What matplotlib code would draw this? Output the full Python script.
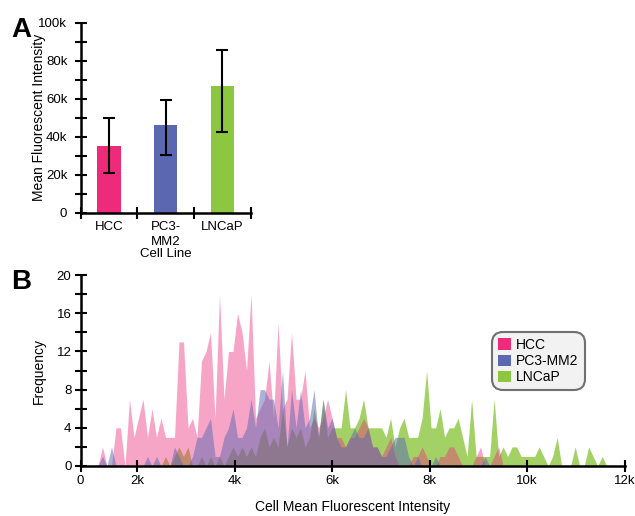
import numpy as np
import matplotlib
matplotlib.use("Agg")
import matplotlib.pyplot as plt
from matplotlib.patches import Patch

plt.rcParams['font.family'] = ['Liberation Sans', 'DejaVu Sans']

# panel A: mean intensity per cell line
cell_lines = ['HCC', 'PC3-\nMM2', 'LNCaP']
mean_mfi = [35100, 46200, 66800]
err_low = [14100, 15700, 24200]
err_high = [14900, 13100, 18800]

# panel B: histogram of cell mean intensity
bin_start = 915
bin_width = 92.4
hcc = [0, 0, 0, 0, 2, 0, 0, 4, 4, 0,
       7, 3, 5, 7, 3, 6, 3, 5, 3, 3,
       3, 13, 13, 4, 5, 3, 11, 12, 14, 5,
       18, 7, 12, 12, 16, 14, 10, 18, 5, 6,
       7, 11, 5, 15, 6, 7, 14, 7, 7, 10,
       4, 5, 4, 5, 7, 5, 3, 3, 2, 3,
       3, 4, 5, 4, 2, 2, 1, 2, 3, 1,
       0, 0, 0, 1, 1, 2, 1, 0, 0, 1,
       1, 2, 2, 1, 0, 0, 0, 1, 2, 0,
       0, 1, 2, 0, 0, 0, 0, 0, 0, 0,
       0, 0, 0, 0, 0, 0, 0, 0, 0, 0,
       0, 0, 0, 0, 0, 0, 0]
pc3 = [0, 0, 0, 0, 1, 0, 2, 0, 0, 0,
       0, 0, 0, 0, 1, 0, 1, 0, 0, 0,
       2, 1, 0, 0, 1, 3, 3, 4, 5, 1,
       1, 3, 4, 6, 3, 3, 4, 7, 4, 8,
       8, 7, 7, 4, 10, 2, 8, 4, 8, 4,
       5, 8, 3, 7, 4, 5, 3, 2, 2, 3,
       4, 3, 3, 4, 2, 2, 1, 1, 2, 3,
       3, 3, 1, 0, 1, 0, 0, 0, 1, 0,
       0, 0, 0, 0, 0, 0, 0, 0, 0, 1,
       0, 0, 0, 0, 0, 0, 0, 0, 0, 0,
       0, 0, 0, 0, 0, 0, 0, 0, 0, 0,
       0, 0, 0, 0, 0, 0, 0]
lncap = [0, 0, 0, 0, 0, 0, 0, 0, 0, 0,
         0, 0, 0, 0, 0, 0, 0, 0, 1, 0,
         1, 2, 1, 2, 0, 0, 1, 0, 1, 0,
         1, 0, 1, 2, 1, 2, 1, 2, 1, 3,
         4, 2, 3, 2, 6, 2, 4, 3, 4, 2,
         3, 6, 3, 7, 3, 4, 4, 4, 8, 4,
         4, 5, 7, 4, 4, 4, 4, 3, 5, 2,
         4, 5, 3, 3, 3, 5, 10, 4, 4, 6,
         3, 4, 4, 5, 3, 1, 7, 1, 1, 1,
         1, 7, 1, 2, 1, 2, 2, 1, 1, 1,
         1, 2, 1, 0, 1, 3, 0, 0, 0, 2,
         0, 0, 2, 1, 0, 1, 0]

pink = '#ee2a7b'
blue = '#5b67b1'
green = '#8dc63f'

fig = plt.figure(figsize=(6.35, 5.16), dpi=100)

# ---- A ----
axA = fig.add_axes([0.1268, 0.5878, 0.268, 0.368])
pos = np.arange(len(cell_lines))
axA.bar(pos, mean_mfi, width=0.41, color=[pink, blue, green], zorder=2)
axA.errorbar(pos, mean_mfi, yerr=[err_low, err_high], fmt='none',
             ecolor='black', elinewidth=1.5, capsize=4.5, capthick=1.5, zorder=3)
axA.set_xlim(-0.5, 2.5)
axA.set_ylim(0, 100000)
axA.set_yticks(np.arange(0, 100001, 20000))
axA.set_yticklabels(['0', '20k', '40k', '60k', '80k', '100k'])
axA.set_yticks(np.arange(10000, 100000, 20000), minor=True)
axA.set_xticks([-0.5, 0.5, 1.5, 2.5])
axA.set_xticklabels([])
axA.set_xticks(pos, minor=True)
axA.set_xticklabels(cell_lines, minor=True, linespacing=1.3, va='top')
axA.tick_params(axis='x', which='minor', length=0, pad=6, labelsize=9.5)
axA.tick_params(axis='x', which='major', direction='inout', length=8, width=1.5)
axA.tick_params(axis='y', which='both', direction='inout', length=9, width=1.5,
                labelsize=9.5, pad=5)
axA.set_ylabel('Mean Fluorescent Intensity', fontsize=10)
axA.yaxis.set_label_coords(-0.2, 0.5)
axA.set_xlabel('Cell Line', fontsize=9.5)
axA.xaxis.set_label_coords(0.5, -0.185)
for s in ['top', 'right']:
    axA.spines[s].set_visible(False)
for s in ['left', 'bottom']:
    axA.spines[s].set_linewidth(1.8)
fig.text(0.018, 0.928, 'A', fontsize=20, fontweight='bold')

# ---- B ----
axB = fig.add_axes([0.1268, 0.0969, 0.8567, 0.370])
bins = bin_start + bin_width * np.arange(len(hcc))
axB.fill_between(bins, lncap, color=green, alpha=0.8, lw=0, zorder=1)
axB.fill_between(bins, hcc, color=pink, alpha=0.42, lw=0, zorder=1)
axB.fill_between(bins, pc3, color=blue, alpha=0.5, lw=0, zorder=1)

x0 = 834
axB.set_xlim(x0, 12000)
axB.set_ylim(0, 20)
axB.set_xticks([x0, 2000, 4000, 6000, 8000, 10000, 12000])
axB.set_xticklabels(['0', '2k', '4k', '6k', '8k', '10k', '12k'])
axB.set_yticks(np.arange(0, 21, 4))
axB.set_yticks(np.arange(2, 20, 4), minor=True)
axB.tick_params(axis='both', which='both', direction='inout', length=9, width=1.5,
                labelsize=9.5)
axB.tick_params(axis='y', pad=2)
axB.tick_params(axis='x', pad=2)
axB.set_ylabel('Frequency', fontsize=10, labelpad=8)
axB.set_xlabel('Cell Mean Fluorescent Intensity', fontsize=10, labelpad=9)
for s in ['top', 'right']:
    axB.spines[s].set_visible(False)
for s in ['left', 'bottom']:
    axB.spines[s].set_linewidth(1.8)

handles = [Patch(facecolor=c, edgecolor='none') for c in (pink, blue, green)]
leg = axB.legend(handles, ['HCC', 'PC3-MM2', 'LNCaP'], loc='upper left',
                 bbox_to_anchor=(0.756, 0.703), borderaxespad=0, fontsize=10,
                 handlelength=0.9, handleheight=0.9, handletextpad=0.4,
                 labelspacing=0.15, borderpad=0.45, fancybox=True, framealpha=1)
frame = leg.get_frame()
frame.set_facecolor('#f2f2f2')
frame.set_edgecolor('#707070')
frame.set_linewidth(1.5)
frame.set_boxstyle('round', pad=0, rounding_size=0.8)
fig.text(0.018, 0.44, 'B', fontsize=20, fontweight='bold')

fig.savefig('out.png', dpi=100)
